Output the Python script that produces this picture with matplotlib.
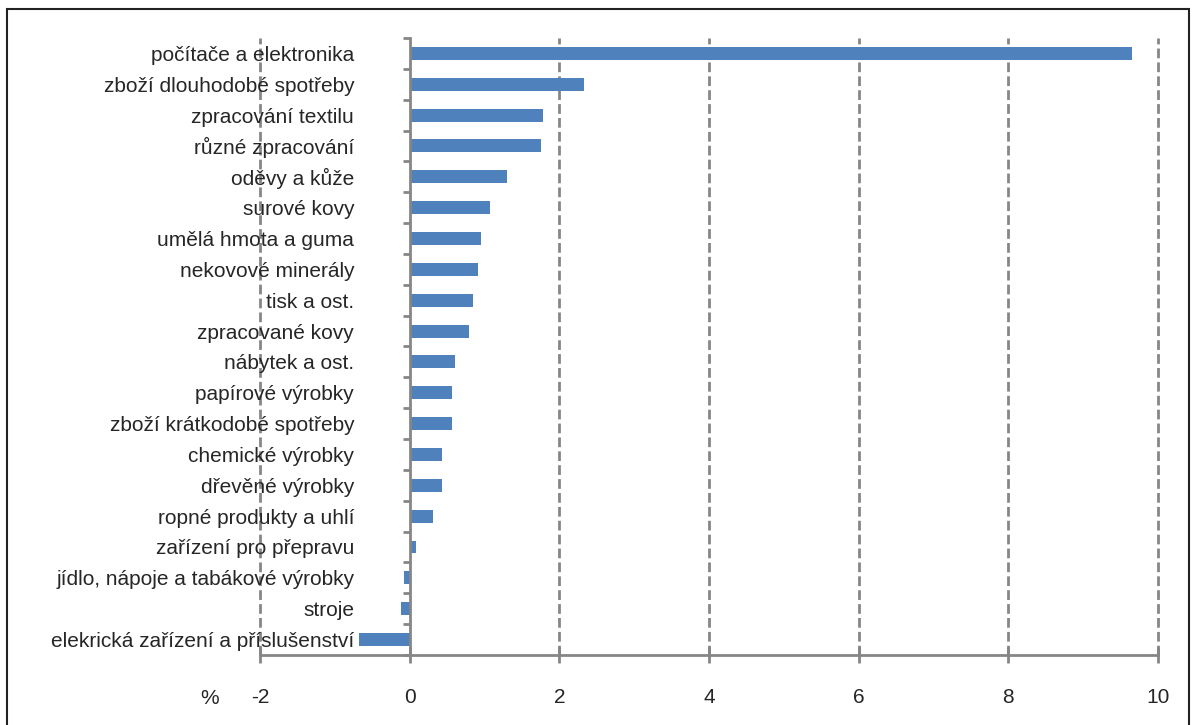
import numpy as np
import matplotlib.pyplot as plt
from matplotlib.patches import Rectangle

plt.rcParams['font.family'] = ['Liberation Sans', 'DejaVu Sans']

kategorie = [
    "počítače a elektronika",
    "zboží dlouhodobé spotřeby",
    "zpracování textilu",
    "různé zpracování",
    "oděvy a kůže",
    "surové kovy",
    "umělá hmota a guma",
    "nekovové minerály",
    "tisk a ost.",
    "zpracované kovy",
    "nábytek a ost.",
    "papírové výrobky",
    "zboží krátkodobé spotřeby",
    "chemické výrobky",
    "dřevěné výrobky",
    "ropné produkty a uhlí",
    "zařízení pro přepravu",
    "jídlo, nápoje a tabákové výrobky",
    "stroje",
    "elekrická zařízení a příslušenství",
]
hodnoty = [9.65, 2.33, 1.78, 1.75, 1.30, 1.07, 0.95, 0.91, 0.84, 0.79,
           0.60, 0.56, 0.56, 0.43, 0.43, 0.31, 0.08, -0.08, -0.12, -0.68]
x_ticks = [-2, 0, 2, 4, 6, 8, 10]

seda = "#868686"
modra = "#4f81bd"
text_barva = "#262626"

fig = plt.figure(figsize=(11.93, 7.25), dpi=100)
ax = fig.add_axes([0.218, 0.0966, 0.7527, 0.851])

y = np.arange(len(kategorie))
ax.barh(y, hodnoty, height=0.42, color=modra, zorder=3)
ax.set_ylim(len(kategorie) - 0.5, -0.5)
ax.set_xlim(-2, 10)

# mřížka
for t in x_ticks:
    if t != 0:
        ax.axvline(t, color=seda, linestyle=(0, (3.5, 1.5)), linewidth=2,
                   zorder=1, clip_on=False)

for s in ["top", "right"]:
    ax.spines[s].set_visible(False)
ax.spines["left"].set_position(("data", 0))
ax.spines["left"].set_color(seda)
ax.spines["left"].set_linewidth(2)
ax.spines["left"].set_zorder(4)
ax.spines["bottom"].set_color(seda)
ax.spines["bottom"].set_linewidth(2)

ax.set_xticks(x_ticks)
ax.set_xticklabels([str(t) for t in x_ticks])
ax.tick_params(axis="x", direction="inout", length=12, width=2, color=seda,
               labelsize=15, labelcolor=text_barva, pad=18)

ax.set_yticks(y)
ax.set_yticklabels(kategorie)
ax.tick_params(axis="y", which="major", length=0, labelsize=15,
               labelcolor=text_barva, pad=40)
ax.set_yticks(np.arange(len(kategorie) + 1) - 0.5, minor=True)
ax.tick_params(axis="y", which="minor", direction="out", length=5, width=2,
               color=seda)

fig.text(210 / 1193, 1 - 698 / 725, "%", fontsize=15, color=text_barva,
         ha="center", va="center")

# rámeček kolem grafu
fig.patches.append(Rectangle((7 / 1193, -0.02), 1182 / 1193, 1.02 - 9 / 725,
                             transform=fig.transFigure, fill=False,
                             edgecolor="#222222", linewidth=1.5))

fig.savefig("out.png", dpi=100)
